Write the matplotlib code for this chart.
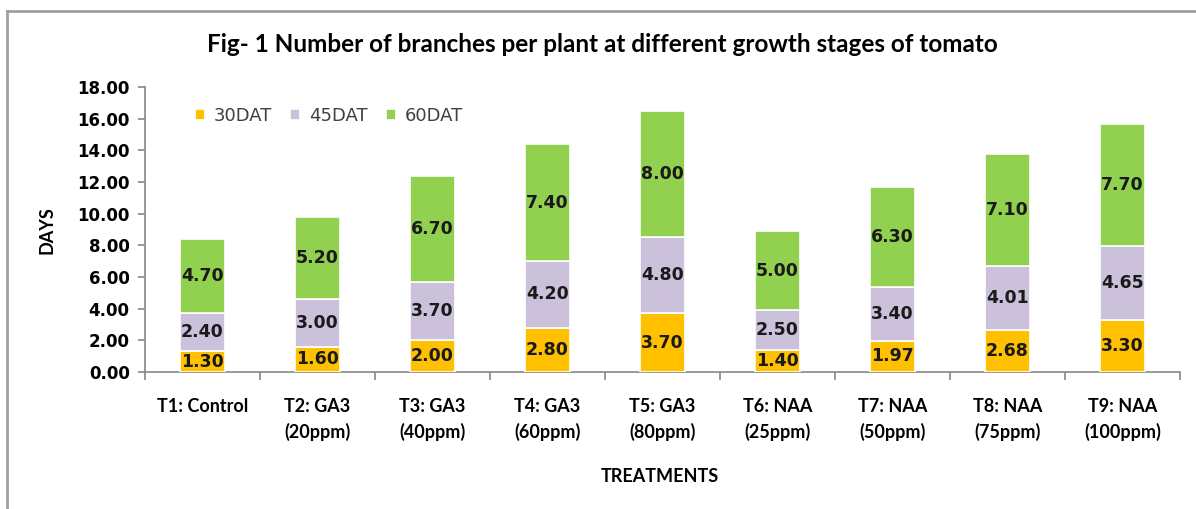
import matplotlib
matplotlib.use("Agg")
import matplotlib.pyplot as plt
import numpy as np
from matplotlib.lines import Line2D

categories = ["T1: Control", "T2: GA3\n(20ppm)", "T3: GA3\n(40ppm)", "T4: GA3\n(60ppm)",
              "T5: GA3\n(80ppm)", "T6: NAA\n(25ppm)", "T7: NAA\n(50ppm)", "T8: NAA\n(75ppm)",
              "T9: NAA\n(100ppm)"]
series_names = ["30DAT", "45DAT", "60DAT"]
dat30 = [1.30, 1.60, 2.00, 2.80, 3.70, 1.40, 1.97, 2.68, 3.30]
dat45 = [2.40, 3.00, 3.70, 4.20, 4.80, 2.50, 3.40, 4.01, 4.65]
dat60 = [4.70, 5.20, 6.70, 7.40, 8.00, 5.00, 6.30, 7.10, 7.70]
yticks = [0, 2, 4, 6, 8, 10, 12, 14, 16, 18]

colors = ["#FFC000", "#CCC1DA", "#92D050"]
cal = "Lato"
num = "DejaVu Sans"

fig = plt.figure(figsize=(11.96, 5.09), dpi=100)
# outer frame
fig.add_artist(Line2D([6.5/1196, 1.0], [1 - 11/509, 1 - 11/509], color="#A0A0A0", lw=2.0,
                      transform=fig.transFigure))
fig.add_artist(Line2D([6.5/1196, 6.5/1196], [0, 1 - 11/509], color="#A0A0A0", lw=2.0,
                      transform=fig.transFigure))

ax = fig.add_axes([145/1196, 1 - 372/509, (1180 - 145)/1196, (372 - 87)/509])
x = np.arange(len(categories))
w = 0.385
bottom = np.zeros(len(categories))
for vals, c, name in zip([dat30, dat45, dat60], colors, series_names):
    ax.bar(x, vals, w, bottom=bottom, color=c, edgecolor="white", linewidth=1.2,
           label=name, zorder=3)
    for xi, b, v in zip(x, bottom, vals):
        ax.text(xi, b + v / 2, f"{v:.2f}", ha="center", va="center", fontsize=12.5,
                fontweight="bold", family=num, color="#1a1a1a", zorder=4)
    bottom = bottom + np.array(vals)

ax.set_xlim(-0.5, len(categories) - 0.5)
ax.set_ylim(0, 18)
ax.set_yticks(yticks)
ax.set_yticklabels([f"{t:.2f}" for t in yticks], fontsize=12, fontweight="bold", family=num)
ax.set_xticks(np.arange(len(categories) + 1) - 0.5, minor=False)
ax.set_xticklabels([])
ax.set_xticks(x, minor=True)
ax.set_xticklabels(categories, minor=True, fontsize=13, fontweight="bold", family=cal,
                   linespacing=1.5, va="top")
ax.tick_params(axis="x", which="minor", length=0, pad=19)
ax.tick_params(axis="x", which="major", length=6, color="#868686", width=1.2)
ax.tick_params(axis="y", length=5, color="#868686", width=1.2, pad=6)
for s in ["top", "right"]:
    ax.spines[s].set_visible(False)
for s in ["left", "bottom"]:
    ax.spines[s].set_color("#868686")
    ax.spines[s].set_linewidth(1.2)

ax.set_ylabel("DAYS", fontsize=13, fontweight="bold", family=cal)
ax.yaxis.set_label_coords(47/1196, (509 - 230)/509, transform=fig.transFigure)
ax.set_xlabel("TREATMENTS", fontsize=13, fontweight="bold", family=cal)
ax.xaxis.set_label_coords(660/1196, 1 - 476/509, transform=fig.transFigure)
ax.xaxis.label.set_va("center")
ax.yaxis.label.set_va("center")

leg = ax.legend(loc="center left", bbox_to_anchor=(50/1035, 1 - 29/285), ncol=3, frameon=False,
                handlelength=0.55, handleheight=0.55, handletextpad=0.5, columnspacing=1.0,
                prop={"family": num, "size": 13}, borderaxespad=0, borderpad=0)
for t in leg.get_texts():
    t.set_color("#404040")

fig.text(602/1196, 1 - 45/509, "Fig- 1 Number of branches per plant at different growth stages of tomato",
         ha="center", va="center", fontsize=17.5, fontweight="bold", family=cal)

fig.savefig("out.png", dpi=100)
